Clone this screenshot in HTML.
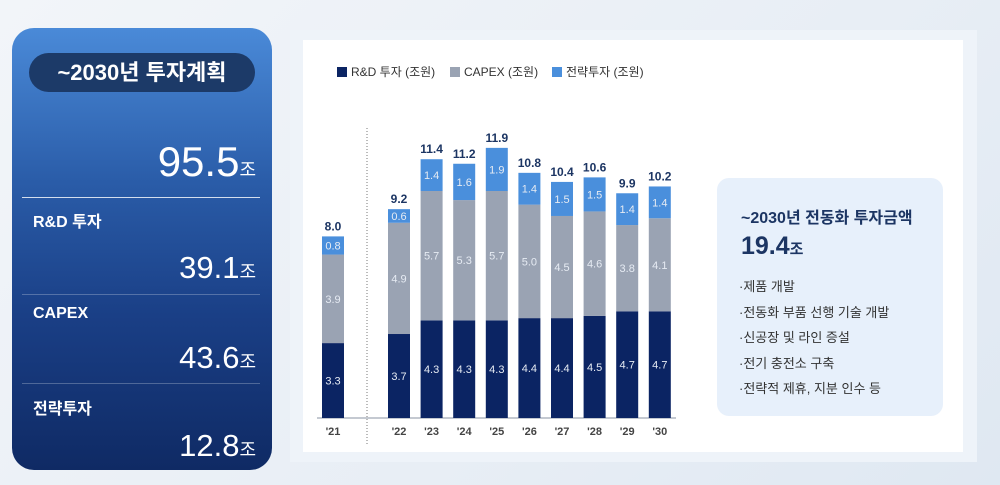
<!DOCTYPE html>
<html><head><meta charset="utf-8"><style>
body{margin:0;width:1000px;height:485px;overflow:hidden;background:linear-gradient(135deg,#f2f5f9,#e8eef5 60%,#dfe8f2);font-family:"Liberation Sans","Noto Sans CJK KR",sans-serif;position:relative}
.left{position:absolute;left:12px;top:28px;width:260px;height:442px;border-radius:22px;background:linear-gradient(180deg,#4a8ad8 0%,#2a5ca8 35%,#1a3f86 65%,#0f2a64 100%);color:#fff}
.pill{position:absolute;left:17px;top:25px;width:226px;height:39px;border-radius:20px;background:#1c3a68;font-size:22px;font-weight:bold;text-align:center;line-height:39px}
.t{position:absolute;right:16px;font-size:36px;font-weight:normal}
.t small{font-size:18px}
.lab{position:absolute;left:21px;font-size:16px;font-weight:bold}
.hr{position:absolute;left:10px;width:238px;height:1px;background:rgba(255,255,255,.25)}
.card{position:absolute;left:290px;top:30px;width:687px;height:432px;background:#eef3f9}
.inner{position:absolute;left:13px;top:10px;width:660px;height:412px;background:#fff}
.info{position:absolute;left:717px;top:178px;width:226px;height:238px;border-radius:12px;background:#e7f0fb}
.info h3{margin:0;position:absolute;left:24px;top:26px;font-size:16px;color:#1c3563}
.info .n{position:absolute;left:24px;top:54px;font-size:25px;font-weight:bold;color:#1c3563}
.info .n small{font-size:15px}
.info ul{position:absolute;left:22px;top:96px;margin:0;padding:0;list-style:none;font-size:13px;color:#333;line-height:25.5px}
</style></head><body>
<div class="left">
<div class="pill">~2030년 투자계획</div>
<div class="t" style="top:110px;font-size:42px">95.5<small>조</small></div>
<div class="hr" style="top:169px;background:rgba(255,255,255,.8)"></div>
<div class="lab" style="top:180px">R&amp;D 투자</div>
<div class="t" style="top:222px;font-size:31px">39.1<small>조</small></div>
<div class="hr" style="top:266px"></div>
<div class="lab" style="top:277px">CAPEX</div>
<div class="t" style="top:312px;font-size:31px">43.6<small>조</small></div>
<div class="hr" style="top:355px"></div>
<div class="lab" style="top:367px">전략투자</div>
<div class="t" style="top:400px;font-size:31px">12.8<small>조</small></div>
</div>
<div class="card"><div class="inner"></div></div>
<svg style="position:absolute;left:0;top:0" width="1000" height="485" font-family="Liberation Sans, Noto Sans CJK KR, sans-serif">
<rect x="337" y="67" width="10" height="10" fill="#0b2463"/><text x="351" y="76" font-size="12" fill="#333">R&amp;D 투자 (조원)</text>
<rect x="450" y="67" width="10" height="10" fill="#9aa3b3"/><text x="464" y="76" font-size="12" fill="#333">CAPEX (조원)</text>
<rect x="552" y="67" width="10" height="10" fill="#4a8fdc"/><text x="566" y="76" font-size="12" fill="#333">전략투자 (조원)</text>
<line x1="367" y1="128" x2="367" y2="445" stroke="#777" stroke-dasharray="1,2"/>
<line x1="317" y1="418" x2="676" y2="418" stroke="#8a93a3" stroke-width="1"/>
<g id="bars"></g>
</svg>
<div class="info"><h3>~2030년 전동화 투자금액</h3><div class="n">19.4<small>조</small></div>
<ul><li>·제품 개발</li><li>·전동화 부품 선행 기술 개발</li><li>·신공장 및 라인 증설</li><li>·전기 충전소 구축</li><li>·전략적 제휴, 지분 인수 등</li></ul></div>
<script>
const d=[["'21",3.3,3.9,0.8,"8.0",322],["'22",3.7,4.9,0.6,"9.2",388],["'23",4.3,5.7,1.4,"11.4"],["'24",4.3,5.3,1.6,"11.2"],["'25",4.3,5.7,1.9,"11.9"],["'26",4.4,5.0,1.4,"10.8"],["'27",4.4,4.5,1.5,"10.4"],["'28",4.5,4.6,1.5,"10.6"],["'29",4.7,3.8,1.4,"9.9"],["'30",4.7,4.1,1.4,"10.2"]];
const k=22.7,b=418,w=22;let s="";
d.forEach((r,i)=>{const x=i<2?r[5]:388+(i-1)*32.6;let y=b;const c=["#0b2463","#9aa3b3","#4a8fdc"];
for(let j=0;j<3;j++){const h=r[j+1]*k;y-=h;s+=`<rect x="${x}" y="${y}" width="${w}" height="${h}" fill="${c[j]}"/>`;
s+=`<text x="${x+w/2}" y="${y+h/2+4}" font-size="11" fill="#e6ebf3" text-anchor="middle">${r[j+1].toFixed(1)}</text>`;}
s+=`<text x="${x+w/2}" y="${y-6}" font-size="12" font-weight="bold" fill="#1c3563" text-anchor="middle">${r[4]}</text>`;
s+=`<text x="${x+w/2}" y="435" font-size="11" font-weight="bold" fill="#444" text-anchor="middle">${r[0]}</text>`;});
document.getElementById("bars").innerHTML=s;
</script>
</body></html>
